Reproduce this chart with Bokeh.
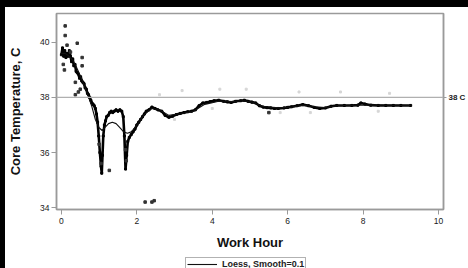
from bokeh.plotting import figure
from bokeh.models import Range1d, LinearAxis, FixedTicker, Span, Legend, LegendItem, Div
from bokeh.layouts import column, row
from bokeh.embed import file_html
from bokeh.resources import INLINE

# Raw core temperature readings (work hour, deg C)
raw_hour = [0.00, 0.03, 0.06, 0.09, 0.12, 0.15, 0.18, 0.21, 0.24, 0.27, 0.30, 0.33, 0.36, 0.39,
            0.42, 0.45, 0.48, 0.51, 0.54, 0.57, 0.60, 0.63, 0.66, 0.69, 0.72, 0.75, 0.78, 0.81,
            0.84, 0.87, 0.90, 0.93, 0.96, 0.99, 1.02, 1.05, 1.07, 1.09, 1.11, 1.14, 1.17, 1.20,
            1.24, 1.28, 1.32, 1.36, 1.40, 1.45, 1.50, 1.55, 1.60, 1.64, 1.67, 1.70, 1.73, 1.76,
            1.80, 1.85, 1.90, 1.95, 2.00, 2.05, 2.10, 2.15, 2.20, 2.25, 2.32, 2.40, 2.48, 2.56,
            2.66, 2.75, 2.85, 2.95, 3.05, 3.15, 3.25, 3.35, 3.45, 3.55, 3.65, 3.75, 3.85, 3.95,
            4.05, 4.17, 4.30, 4.40, 4.50, 4.62, 4.75, 4.85, 4.95, 5.05, 5.15, 5.25, 5.35, 5.45,
            5.55, 5.65, 5.75, 5.90, 6.00, 6.10, 6.25, 6.40, 6.55, 6.70, 6.85, 7.00, 7.15, 7.30,
            7.50, 7.70, 7.86, 7.94, 8.05, 8.20, 8.40, 8.60, 8.80, 9.00, 9.26]
raw_temp = [39.55, 39.80, 39.50, 39.70, 39.45, 39.60, 39.50, 39.70, 39.50, 39.30, 39.40, 39.15, 39.20, 38.95,
            38.90, 38.85, 38.70, 38.75, 38.60, 38.55, 38.50, 38.35, 38.30, 38.15, 38.10, 38.00, 37.90, 37.80,
            37.75, 37.70, 37.60, 37.40, 37.10, 36.60, 36.00, 35.50, 35.25, 35.90, 36.60, 37.00, 37.15, 37.30,
            37.35, 37.45, 37.50, 37.45, 37.50, 37.55, 37.50, 37.55, 37.50, 37.30, 36.60, 35.40, 35.90, 36.40,
            36.55, 36.65, 36.75, 36.85, 37.00, 37.10, 37.20, 37.30, 37.40, 37.50, 37.55, 37.65, 37.60, 37.55,
            37.50, 37.35, 37.28, 37.32, 37.38, 37.42, 37.45, 37.48, 37.50, 37.55, 37.70, 37.80, 37.82, 37.85,
            37.88, 37.90, 37.86, 37.84, 37.82, 37.86, 37.88, 37.90, 37.86, 37.83, 37.80, 37.70, 37.65, 37.63,
            37.62, 37.60, 37.60, 37.62, 37.64, 37.66, 37.70, 37.74, 37.70, 37.64, 37.60, 37.62, 37.68, 37.71,
            37.71, 37.71, 37.72, 37.80, 37.76, 37.72, 37.71, 37.71, 37.71, 37.71, 37.71]

# Scattered individual readings
pt_hour = [0.10, 0.10, 0.05, 0.08, 0.42, 0.55, 0.55, 0.24, 0.37, 0.37, 0.45, 0.50, 0.15,
           1.00, 1.05, 1.27, 1.72, 1.70, 2.22, 2.40, 2.46, 5.50]
pt_temp = [40.60, 40.25, 39.20, 39.00, 39.97, 39.45, 39.15, 39.65, 38.55, 38.10, 38.20, 38.30, 39.90,
           36.30, 35.60, 35.35, 35.70, 36.10, 34.20, 34.20, 34.25, 37.45]
faint_hour = [2.60, 3.00, 3.20, 4.00, 4.20, 4.90, 5.80, 6.30, 6.60, 7.40, 8.40, 8.70]
faint_temp = [38.10, 37.20, 38.25, 37.60, 38.30, 38.30, 37.45, 38.20, 37.45, 38.20, 37.50, 38.15]

# Loess smooth (smooth = 0.1)
loess_hour = [0.00, 0.10, 0.20, 0.30, 0.40, 0.50, 0.60, 0.70, 0.80, 0.90, 1.00, 1.08, 1.15, 1.25,
              1.35, 1.45, 1.55, 1.65, 1.75, 1.85, 1.95, 2.05, 2.15, 2.30, 2.40, 2.60, 2.85, 3.20,
              3.50, 3.80, 4.20, 4.50, 4.85, 5.10, 5.30, 5.75, 6.10, 6.40, 6.70, 7.00, 7.30, 7.90,
              8.30, 9.26]
loess_temp = [39.60, 39.60, 39.50, 39.35, 39.10, 38.80, 38.45, 38.10, 37.70, 37.20, 36.90, 36.80, 36.90, 37.05,
              37.10, 37.05, 36.90, 36.75, 36.70, 36.75, 36.90, 37.10, 37.30, 37.50, 37.60, 37.55, 37.35, 37.42,
              37.50, 37.75, 37.87, 37.85, 37.88, 37.82, 37.68, 37.62, 37.65, 37.72, 37.66, 37.63, 37.70, 37.72,
              37.72, 37.71]

x_ticks = [0, 2, 4, 6, 8, 10]
y_ticks = [34, 36, 38, 40]
ref_temp = 38
legend_label = "Loess, Smooth=0.1"

FONT = "Liberation Sans"
AXIS_GRAY = "#9a9a9a"

p = figure(width=463, height=249, output_backend="svg", toolbar_location=None,
           x_range=Range1d(-0.13, 10.13), y_range=Range1d(33.93, 41.05),
           min_border_left=49, min_border_right=25, min_border_top=6, min_border_bottom=47,
           margin=0)
p.xgrid.visible = False
p.ygrid.visible = False
p.outline_line_color = AXIS_GRAY
p.outline_line_width = 1.5

for ax, ticks in ((p.xaxis[0], x_ticks), (p.yaxis[0], y_ticks)):
    ax.ticker = FixedTicker(ticks=ticks)
    ax.axis_line_color = AXIS_GRAY
    ax.axis_line_width = 1.5
    ax.major_tick_line_color = AXIS_GRAY
    ax.major_tick_out = 5
    ax.major_tick_in = 0
    ax.minor_tick_line_color = None
    ax.major_label_text_font = FONT
    ax.major_label_text_font_size = "8.5px"
    ax.major_label_text_color = "#1a1a1a"
    ax.axis_label_text_font = FONT
    ax.axis_label_text_font_style = "bold"
    ax.axis_label_text_font_size = "13px"
    ax.axis_label_text_color = "#111111"

p.xaxis.axis_label = "Work Hour"
p.xaxis.major_label_standoff = 3
p.xaxis.axis_label_standoff = 8
p.yaxis.axis_label = "Core Temperature, C"
p.yaxis.major_label_standoff = 2
p.yaxis.axis_label_standoff = 14

right = LinearAxis(ticker=FixedTicker(ticks=[ref_temp]),
                   major_label_overrides={ref_temp: "38 C"})
right.axis_line_color = AXIS_GRAY
right.axis_line_width = 1.5
right.major_tick_line_color = AXIS_GRAY
right.major_tick_out = 3
right.major_tick_in = 0
right.minor_tick_line_color = None
right.major_label_standoff = 2
right.major_label_text_font = FONT
right.major_label_text_font_size = "8px"
right.major_label_text_font_style = "bold"
right.major_label_text_color = "#1a1a1a"
p.add_layout(right, "right")

p.add_layout(Span(location=ref_temp, dimension="width", line_color="#b0b0b0", line_width=1.2))

p.scatter(faint_hour, faint_temp, size=2, color="#d6d6d6", marker="square")
p.line(raw_hour, raw_temp, line_color="black", line_width=2.6, line_join="round")
p.scatter(raw_hour, raw_temp, size=2, color="black", marker="square")
p.scatter(pt_hour, pt_temp, size=2.5, color="#333333", marker="square")
p.line(loess_hour, loess_temp, line_color="#111111", line_width=1.1)

# Legend strip below the chart
lg = figure(width=463, height=12, output_backend="svg", toolbar_location=None,
            x_range=Range1d(0, 1), y_range=Range1d(0, 1),
            x_axis_location=None, y_axis_location=None,
            min_border=0, min_border_left=0, min_border_right=0,
            min_border_top=0, min_border_bottom=0, margin=0)
lg.xgrid.visible = False
lg.ygrid.visible = False
lg.outline_line_color = None
key = lg.line([-2, -1], [-1, -1], line_color="#111111", line_width=1.1)
legend = Legend(items=[LegendItem(label=legend_label, renderers=[key])],
                location=(129, -3), orientation="horizontal",
                border_line_color="#666666", border_line_width=1,
                label_text_font=FONT, label_text_font_size="9px", label_text_font_style="bold",
                label_text_color="#222222", glyph_width=30, glyph_height=8,
                label_height=8, label_standoff=5, padding=1, margin=0, spacing=0)
lg.add_layout(legend, "center")

top_band = Div(text="", width=468, height=7, margin=0,
               styles={"background-color": "black"})
left_band = Div(text="", width=5, height=261, margin=0,
                styles={"background-color": "black"})
page = column(top_band, row(left_band, column(p, lg, spacing=0, margin=0), spacing=0, margin=0),
              spacing=0, margin=0)

open("out.html", "w").write(file_html(page, INLINE))
